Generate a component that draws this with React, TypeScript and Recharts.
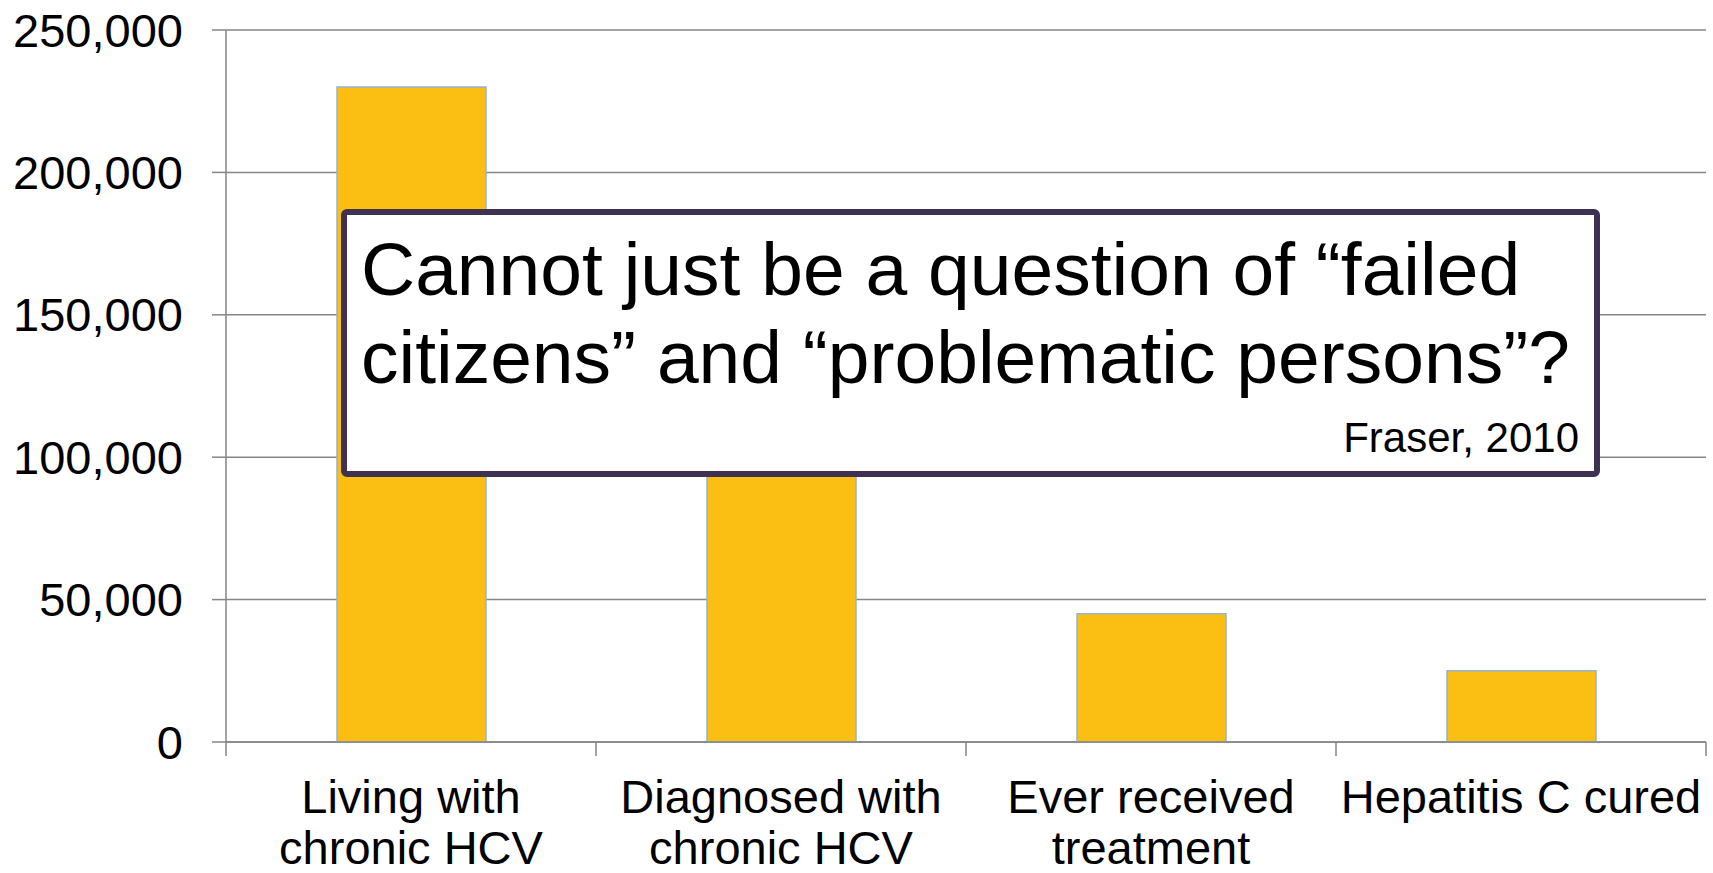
import React from 'react';
import { BarChart, Bar, XAxis, YAxis, CartesianGrid } from 'recharts';

const categories = [
  'Living with\nchronic HCV',
  'Diagnosed with\nchronic HCV',
  'Ever received\ntreatment',
  'Hepatitis C cured',
];
const people = [230000, 170000, 45000, 25000];
const yTicks = [0, 50000, 100000, 150000, 200000, 250000];
const quoteLines = ['Cannot just be a question of \u201cfailed', 'citizens\u201d and \u201cproblematic persons\u201d?'];
const quoteSource = 'Fraser, 2010';

const data = categories.map((category, i) => ({ category, people: people[i] }));

const W = 1713;
const H = 873;
const FONT = '"Liberation Sans", Arial, sans-serif';
const GREY = '#868686';

const CategoryTick = (props: any) => {
  const { x, y, payload, index, visibleTicksCount, width } = props;
  const half = payload?.offset || width / visibleTicksCount / 2;
  const lines = String(payload.value).split('\n');
  return (
    <g>
      <line x1={x - half} x2={x - half} y1={y} y2={y + 14} stroke={GREY} strokeWidth={1.5} />
      {index === visibleTicksCount - 1 && (
        <line x1={x + half} x2={x + half} y1={y} y2={y + 14} stroke={GREY} strokeWidth={1.5} />
      )}
      <text x={x} y={y + 71} textAnchor="middle" fontSize={47} fontFamily={FONT} fill="#000">
        {lines.map((l, i) => (
          <tspan key={i} x={x} dy={i === 0 ? 0 : 51}>{l}</tspan>
        ))}
      </text>
    </g>
  );
};

export default function App() {
  return (
    <div style={{ position: 'relative', width: W, height: H, background: '#fff' }}>
      <style>{'body{margin:0}'}</style>
      <BarChart width={W} height={H} data={data} margin={{ top: 30, right: 7, left: 0, bottom: 0 }}>
        <CartesianGrid vertical={false} stroke={GREY} strokeWidth={1.5} />
        <XAxis
          dataKey="category"
          height={131}
          tickLine={false}
          tickSize={0}
          tickMargin={0}
          axisLine={{ stroke: GREY, strokeWidth: 1.5 }}
          tick={<CategoryTick />}
          interval={0}
        />
        <YAxis
          width={226}
          domain={[0, 250000]}
          ticks={yTicks}
          tickSize={14}
          tickMargin={29}
          axisLine={{ stroke: GREY, strokeWidth: 1.5 }}
          tickLine={{ stroke: GREY, strokeWidth: 1.5 }}
          tick={{ fontSize: 47, fontFamily: FONT, fill: '#000' }}
          tickFormatter={(v: number) => v.toLocaleString('en-US')}
        />
        <Bar dataKey="people" fill="#FBBF13" stroke="#95B3D7" strokeWidth={1.5} barSize={149} isAnimationActive={false} />
      </BarChart>
      <svg width={W} height={H} style={{ position: 'absolute', left: 0, top: 0, pointerEvents: 'none' }}>
        <rect x={344} y={212} width={1253} height={262} rx={3} fill="#fff" stroke="#3F3151" strokeWidth={6} />
        <text x={361} y={295} fontSize={75} fontFamily={FONT} fill="#000">{quoteLines[0]}</text>
        <text x={361} y={383} fontSize={75} fontFamily={FONT} fill="#000">{quoteLines[1]}</text>
        <text x={1579} y={452} fontSize={42} fontFamily={FONT} fill="#000" textAnchor="end">{quoteSource}</text>
      </svg>
    </div>
  );
}
